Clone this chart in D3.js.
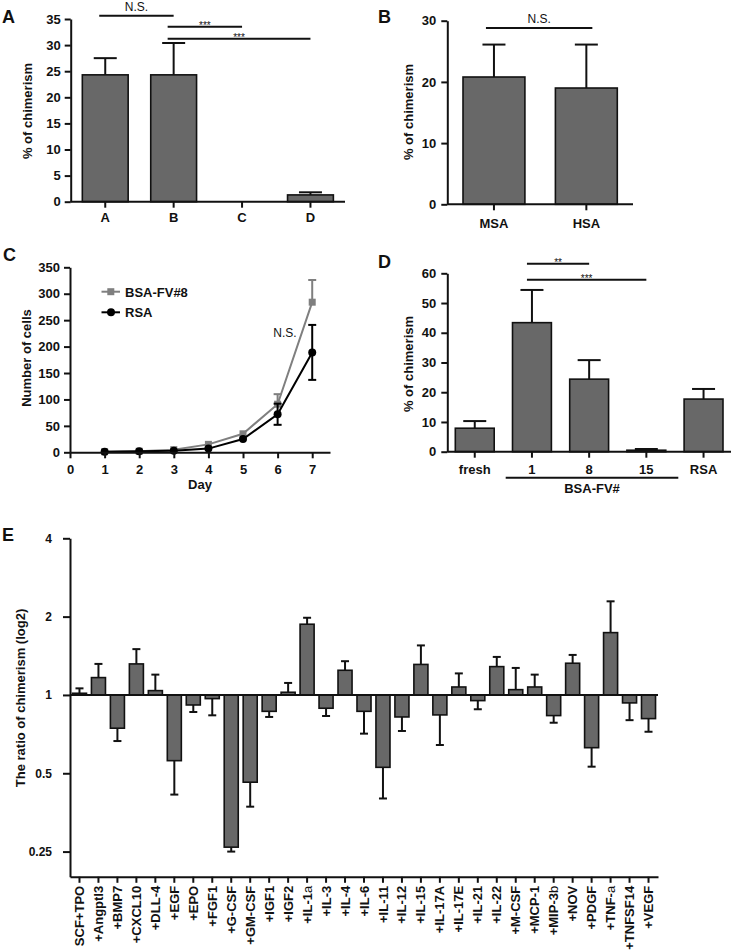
<!DOCTYPE html>
<html><head><meta charset="utf-8">
<script src="https://cdn.jsdelivr.net/npm/d3@7/dist/d3.min.js"></script>
<style>
body{margin:0;background:#fff;}
text{font-family:"Liberation Sans",Arial,sans-serif;fill:#111;}
</style></head><body>
<svg id="c" width="736" height="950"></svg>
<script>
// ---------- DATA ----------
const catsA = ["A","B","C","D"];
const meanA = [24.3, 24.3, 0, 1.3];
const errA  = [3.2, 6.1, 0, 0.5];
const sigA  = [{a:"A",b:"B",v:35.6,t:"N.S.",s:"ns"},{a:"B",b:"C",v:33.5,t:"***",s:"st"},{a:"B",b:"D",v:31.2,t:"***",s:"st"}];

const catsB = ["MSA","HSA"];
const meanB = [20.8, 19.0];
const errB  = [5.3, 7.1];
const sigB  = [{a:"MSA",b:"HSA",v:28.8,t:"N.S.",s:"ns"}];

const days   = [1,2,3,4,5,6,7];
const bsaFV8 = [1, 2, 5, 15, 35, 91, 284];
const bsaUp  = [0, 0, 0, 0, 0, 19, 42];
const rsa    = [1, 2, 3, 7, 25, 72, 189];
const rsaErr = [0, 0, 0, 0, 0, 20, 52];
const dayTicks = [0,1,2,3,4,5,6,7];

const catsD = ["fresh","1","8","15","RSA"];
const meanD = [7.9, 43.4, 24.4, 0.5, 17.7];
const errD  = [2.4, 11.0, 6.4, 0.4, 3.4];
const sigD  = [{a:"1",b:"8",v:63.2,t:"**",s:"st"},{a:"1",b:"15",v:57.8,t:"***",s:"st"}];

const catsE = ["SCF+TPO","+Angptl3","+BMP7","+CXCL10","+DLL-4","+EGF","+EPO","+FGF1","+G-CSF","+GM-CSF","+IGF1","+IGF2","+IL-1a","+IL-3","+IL-4","+IL-6","+IL-11","+IL-12","+IL-15","+IL-17A","+IL-17E","+IL-21","+IL-22","+M-CSF","+MCP-1","+MIP-3b","+NOV","+PDGF","+TNF-a","+TNFSF14","+VEGF"];
const meanE = [1.015,1.166,0.745,1.316,1.039,0.559,0.915,0.968,0.26,0.462,0.865,1.024,1.87,0.889,1.244,0.865,0.527,0.823,1.31,0.838,1.073,0.951,1.285,1.048,1.073,0.833,1.324,0.627,1.736,0.932,0.811];
const errEndE = [1.06,1.316,0.665,1.50,1.197,0.414,0.86,0.835,0.25,0.372,0.823,1.112,1.98,0.83,1.348,0.71,0.40,0.727,1.55,0.642,1.21,0.881,1.40,1.27,1.197,0.782,1.425,0.53,2.29,0.80,0.722];
const ticksE = [0.25,0.5,1,2,4];

// ---------- DRAW ----------
const svg = d3.select("#c");
const FILL = "#686868", DARK = "#111";

function styleAxis(g, fs){
  g.select(".domain").attr("stroke",DARK).attr("stroke-width",2);
  g.selectAll(".tick line").attr("stroke",DARK).attr("stroke-width",2);
  g.selectAll(".tick text").attr("font-size",fs||13).attr("font-weight","bold").attr("fill",DARK);
}
function panelLetter(t,x,y){ svg.append("text").attr("x",x).attr("y",y).attr("font-size",18).attr("font-weight","bold").text(t); }
function yLabel(t,x,y){ svg.append("text").attr("transform",`translate(${x},${y}) rotate(-90)`).attr("text-anchor","middle").attr("dy","0.35em").attr("font-size",13).attr("font-weight","bold").text(t); }

function barPanel(o){
  const y = d3.scaleLinear().domain(o.yDom).range([o.yB,o.yT]);
  const x = d3.scaleBand().domain(o.cats).range([o.x0,o.x1]).paddingInner(o.pi).paddingOuter(o.po);
  const g = svg.append("g");
  // error bars (behind)
  o.cats.forEach((c,i)=>{
    if(o.errs[i]>0){
      const cx = x(c)+x.bandwidth()/2, top=y(o.means[i]+o.errs[i]);
      g.append("line").attr("x1",cx).attr("x2",cx).attr("y1",y(o.means[i])).attr("y2",top).attr("stroke",DARK).attr("stroke-width",2);
      g.append("line").attr("x1",cx-o.cap/2).attr("x2",cx+o.cap/2).attr("y1",top).attr("y2",top).attr("stroke",DARK).attr("stroke-width",2);
    }
  });
  g.selectAll("rect.b").data(o.cats).join("rect")
    .attr("x",c=>x(c)).attr("width",x.bandwidth())
    .attr("y",(c,i)=>y(o.means[i])).attr("height",(c,i)=>y(0)-y(o.means[i]))
    .attr("fill",FILL).attr("stroke",DARK).attr("stroke-width",1.6);
  const ya = g.append("g").attr("transform",`translate(${o.x0},0)`).call(d3.axisLeft(y).tickValues(o.yTicks).tickSize(6).tickPadding(o.ypad||4).tickSizeOuter(0));
  styleAxis(ya);
  const xa = g.append("g").attr("transform",`translate(0,${o.yB})`).call(d3.axisBottom(x).tickSize(6).tickPadding(o.xpad||4).tickSizeOuter(0));
  styleAxis(xa);
  xa.select(".domain").attr("d",`M${o.x0},0H${o.x1}`);
  // significance
  (o.sig||[]).forEach(s=>{
    const xa1 = x(s.a)+x.bandwidth()/2 - (o.sigL||5), xb = x(s.b)+x.bandwidth()/2 + (o.sigR||0);
    const yy = y(s.v);
    g.append("line").attr("x1",xa1).attr("x2",xb).attr("y1",yy).attr("y2",yy).attr("stroke",DARK).attr("stroke-width",2);
    g.append("text").attr("x",(xa1+xb)/2).attr("y", s.s==="ns"? yy-5 : yy+2).attr("text-anchor","middle")
      .attr("font-size", s.s==="ns"?12:10).attr("fill","#333").text(s.t);
  });
  return {x,y};
}

// Panel A
panelLetter("A",2,23);
yLabel("% of chimerism",27,111);
barPanel({cats:catsA,means:meanA,errs:errA,yDom:[0,35],yTicks:[0,5,10,15,20,25,30,35],yB:201.7,yT:19,x0:70.7,x1:345,pi:0.33,po:0.17,cap:23,sig:sigA,xpad:5,sigL:6});

// Panel B
panelLetter("B",378,23);
yLabel("% of chimerism",408,112);
barPanel({cats:catsB,means:meanB,errs:errB,yDom:[0,30],yTicks:[0,10,20,30],yB:204.3,yT:20.7,x0:447.3,x1:633,pi:0.33,po:0.17,cap:23,sig:sigB,xpad:8,ypad:5,sigL:8,sigR:6});

// Panel C
panelLetter("C",3,261);
yLabel("Number of cells",26,358);
{
  const x = d3.scaleLinear().domain([0,7.514]).range([70,330]);
  const y = d3.scaleLinear().domain([0,350]).range([452.3,267.3]);
  const g = svg.append("g");
  const GRAY="#7f7f7f";
  const line = d3.line().x((d,i)=>x(days[i])).y(d=>y(d));
  // error bars
  function errs(vals, up, down, col){
    days.forEach((d,i)=>{
      if(up[i]>0){
        const cx=x(d), t=y(vals[i]+up[i]), b= down? y(vals[i]-up[i]) : y(vals[i]);
        g.append("line").attr("x1",cx).attr("x2",cx).attr("y1",b).attr("y2",t).attr("stroke",col).attr("stroke-width",2);
        g.append("line").attr("x1",cx-4).attr("x2",cx+4).attr("y1",t).attr("y2",t).attr("stroke",col).attr("stroke-width",2);
        if(down) g.append("line").attr("x1",cx-4).attr("x2",cx+4).attr("y1",b).attr("y2",b).attr("stroke",col).attr("stroke-width",2);
      }
    });
  }
  errs(bsaFV8,bsaUp,false,GRAY);
  g.append("path").datum(bsaFV8).attr("d",line).attr("fill","none").attr("stroke",GRAY).attr("stroke-width",2);
  g.selectAll("rect.sq").data(bsaFV8).join("rect").attr("x",(d,i)=>x(days[i])-3.5).attr("y",d=>y(d)-3.5).attr("width",7).attr("height",7).attr("fill",GRAY);
  errs(rsa,rsaErr,true,"#000");
  g.append("path").datum(rsa).attr("d",line).attr("fill","none").attr("stroke","#000").attr("stroke-width",2);
  g.selectAll("circle.c").data(rsa).join("circle").attr("cx",(d,i)=>x(days[i])).attr("cy",d=>y(d)).attr("r",4).attr("fill","#000");
  const ya = g.append("g").attr("transform",`translate(70,0)`).call(d3.axisLeft(y).tickValues([0,50,100,150,200,250,300,350]).tickSize(6).tickPadding(4).tickSizeOuter(0));
  styleAxis(ya);
  const xa = g.append("g").attr("transform",`translate(0,452.3)`).call(d3.axisBottom(x).tickValues(dayTicks).tickSize(6).tickPadding(6).tickSizeOuter(0));
  styleAxis(xa);
  g.append("text").attr("x",200).attr("y",489).attr("text-anchor","middle").attr("font-size",13).attr("font-weight","bold").text("Day");
  // legend
  g.append("line").attr("x1",101.5).attr("x2",120).attr("y1",291.7).attr("y2",291.7).attr("stroke",GRAY).attr("stroke-width",2);
  g.append("rect").attr("x",107.3).attr("y",288.2).attr("width",7).attr("height",7).attr("fill",GRAY);
  g.append("text").attr("x",125).attr("y",296.5).attr("font-size",13).attr("font-weight","bold").text("BSA-FV#8");
  g.append("line").attr("x1",101.5).attr("x2",120).attr("y1",312.3).attr("y2",312.3).attr("stroke","#000").attr("stroke-width",2);
  g.append("circle").attr("cx",111).attr("cy",312.3).attr("r",4).attr("fill","#000");
  g.append("text").attr("x",125).attr("y",317).attr("font-size",13).attr("font-weight","bold").text("RSA");
  g.append("text").attr("x",285).attr("y",337).attr("text-anchor","middle").attr("font-size",12).attr("fill","#333").text("N.S.");
}

// Panel D
panelLetter("D",378,268);
yLabel("% of chimerism",408,364);
{
  const r = barPanel({cats:catsD,means:meanD,errs:errD,yDom:[0,60],yTicks:[0,10,20,30,40,50,60],yB:451.7,yT:273.3,x0:447.3,x1:731,pi:0.32,po:0.14,cap:23,sig:sigD,xpad:7,ypad:5,sigL:5});
  svg.append("line").attr("x1",505.7).attr("x2",678.3).attr("y1",477.7).attr("y2",477.7).attr("stroke",DARK).attr("stroke-width",2);
  svg.append("text").attr("x",592).attr("y",493).attr("text-anchor","middle").attr("font-size",13).attr("font-weight","bold").text("BSA-FV#");
}

// Panel E
panelLetter("E",2,541);
yLabel("The ratio of chimerism (log2)",20,698);
{
  const y = d3.scaleLog().base(2).domain([0.2,4]).range([876.8,538.3]);
  const x = d3.scaleBand().domain(catsE).range([70,658]).paddingInner(0.26).paddingOuter(0.13);
  const g = svg.append("g");
  catsE.forEach((c,i)=>{
    const cx = x(c)+x.bandwidth()/2;
    g.append("line").attr("x1",cx).attr("x2",cx).attr("y1",y(meanE[i])).attr("y2",y(errEndE[i])).attr("stroke",DARK).attr("stroke-width",2);
    g.append("line").attr("x1",cx-4).attr("x2",cx+4).attr("y1",y(errEndE[i])).attr("y2",y(errEndE[i])).attr("stroke",DARK).attr("stroke-width",2);
  });
  g.selectAll("rect.e").data(catsE).join("rect")
    .attr("x",c=>x(c)).attr("width",x.bandwidth())
    .attr("y",(c,i)=>Math.min(y(meanE[i]),y(1)))
    .attr("height",(c,i)=>Math.abs(y(meanE[i])-y(1)))
    .attr("fill",FILL).attr("stroke",DARK).attr("stroke-width",1.6);
  g.append("line").attr("x1",70).attr("x2",658).attr("y1",y(1)).attr("y2",y(1)).attr("stroke",DARK).attr("stroke-width",2);
  const ya = g.append("g").attr("transform",`translate(70,0)`).call(d3.axisLeft(y).tickValues(ticksE).tickFormat(d3.format("")).tickSize(7).tickPadding(11).tickSizeOuter(0));
  styleAxis(ya,12);
  const xa = g.append("g").attr("transform",`translate(0,876.8)`).call(d3.axisBottom(x).tickSize(6).tickSizeOuter(0));
  styleAxis(xa,13);
  xa.selectAll(".tick text").attr("transform","rotate(-90)").attr("text-anchor","end").attr("x",-9).attr("y",0).attr("dy","0.35em")
    .each(function(d){
      const m = d.match(/^(.*)([ab])$/);
      if(m && /1a$|3b$|F-a$/.test(d)){
        const t=d3.select(this); t.text(null);
        t.append("tspan").text(m[1]);
        t.append("tspan").attr("font-weight","normal").text(m[2]);
      }
    });
}
</script>
</body></html>
